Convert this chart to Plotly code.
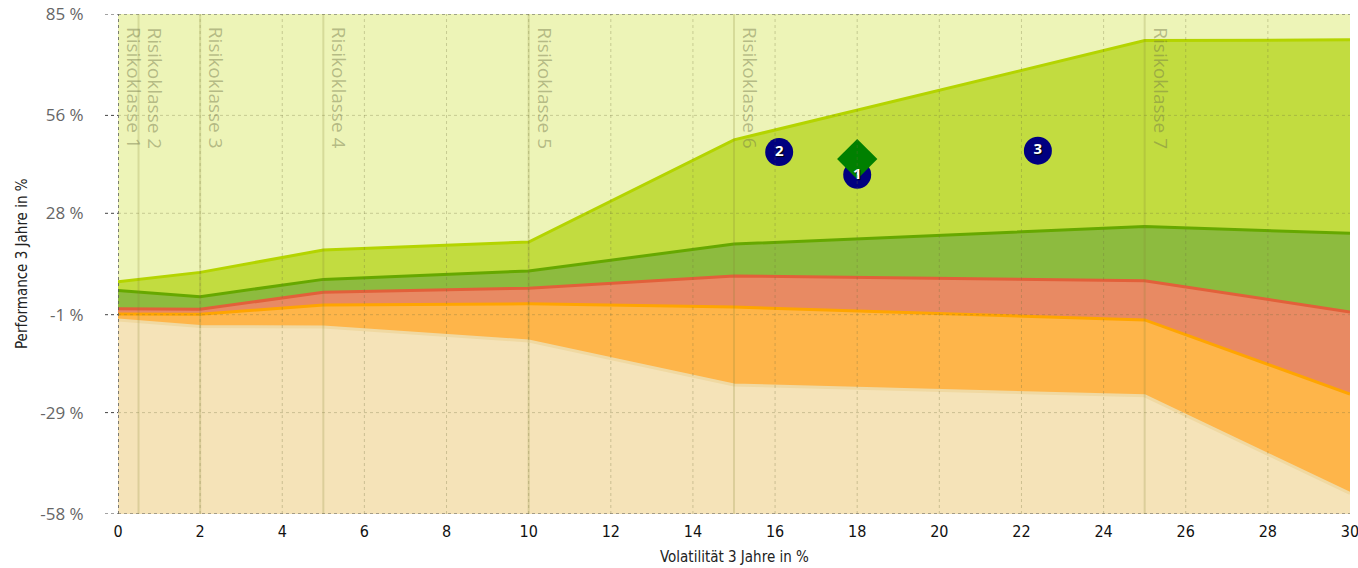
import plotly.graph_objects as go

# ---- data ----
x_pts = [0, 2, 5, 10, 15, 25, 30]
line1 = [8.4, 11.1, 17.5, 19.8, 49.0, 77.4, 77.6]      # top (yellow-green)
line2 = [5.9, 4.15, 9.1, 11.5, 19.2, 24.2, 22.3]        # dark green
line3 = [0.7, 0.55, 5.4, 6.6, 10.1, 8.7, -0.2]          # red
line4 = [-0.8, -0.9, 1.8, 2.1, 1.2, -2.5, -23.7]        # orange
line5 = [-2.5, -4.4, -4.5, -8.5, -21.1, -24.2, -52.1]   # beige

y_min, y_max = -58, 85
y_ticks = [-58, -29, -1, 28, 56, 85]
y_ticktext = [f"{v} %" for v in y_ticks]
x_ticks = list(range(0, 31, 2))

risk_x = [0, 0.5, 2, 5, 10, 15, 25]
risk_labels = [f"Risikoklasse {i}" for i in range(1, 8)]

fund_x = [18, 16.1, 22.4]
fund_y = [39.0, 45.5, 45.9]
fund_labels = ["1", "2", "3"]
bench_x = [18]
bench_y = [43.5]

x_title = "Volatilität 3 Jahre in %"
y_title = "Performance 3 Jahre in %"

# ---- styling ----
W, H = 1358, 568
ML, MR, MT, MB = 118, 8, 14, 54
PW, PH = W - ML - MR, H - MT - MB

COND = "DejaVu Sans Condensed, Liberation Sans Narrow, Open Sans"

bg_top = "#edf4b7"
band_fill = ["#f5e3b8", "#feb54a", "#e88a63", "#8dbb3f", "#c2dc40"]
band_line = ["#f0d9a2", "#ffa500", "#e2603a", "#66a800", "#b4d400"]
bounds = [line5, line4, line3, line2, line1]

fig = go.Figure()
fig.add_trace(go.Scatter(x=x_pts, y=[y_min] * len(x_pts), mode="lines",
                         line=dict(width=0), hoverinfo="skip", showlegend=False))
for yv, fc, lc in zip(bounds, band_fill, band_line):
    fig.add_trace(go.Scatter(x=x_pts, y=yv, mode="lines", fill="tonexty",
                             fillcolor=fc, line=dict(color=lc, width=3),
                             hoverinfo="skip", showlegend=False))

shapes = []
grid_col = "rgba(110,110,60,0.3)"
for xv in x_ticks[1:-1]:
    shapes.append(dict(type="line", xref="x", yref="paper", x0=xv, x1=xv, y0=0, y1=1,
                       line=dict(color=grid_col, width=1, dash="dot"), layer="above"))
for yv in y_ticks[1:-1]:
    shapes.append(dict(type="line", xref="paper", yref="y", x0=0, x1=1, y0=yv, y1=yv,
                       line=dict(color=grid_col, width=1, dash="dot"), layer="above"))
for yv in [y_min, y_max]:
    shapes.append(dict(type="line", xref="paper", yref="y", x0=0, x1=1, y0=yv, y1=yv,
                       line=dict(color="#555", width=1, dash="dot"), layer="above"))
# y tick marks (dotted, left of axis)
for yv in y_ticks:
    shapes.append(dict(type="line", xref="paper", yref="y", x0=-13 / PW, x1=0, y0=yv, y1=yv,
                       line=dict(color="#444", width=1, dash="dot"), layer="above"))
shapes.append(dict(type="line", xref="x", yref="paper", x0=0, x1=0, y0=0, y1=1,
                   line=dict(color="#555", width=1.5, dash="dot"), layer="above"))
for xv in risk_x[1:]:
    shapes.append(dict(type="line", xref="x", yref="paper", x0=xv, x1=xv, y0=0, y1=1,
                       line=dict(color="rgba(130,130,50,0.22)", width=2), layer="above"))

annotations = []
for xv, lab in zip(risk_x, risk_labels):
    annotations.append(dict(x=xv, y=y_max, xref="x", yref="y", text=lab, textangle=90,
                            showarrow=False, xanchor="left", yanchor="top",
                            xshift=1, yshift=-11,
                            font=dict(family="Open Sans", size=19,
                                      color="rgba(110,115,70,0.45)")))
annotations.append(dict(x=0.5, y=-43 / PH, xref="paper", yref="paper",
                        text=x_title, showarrow=False, xanchor="center", yanchor="middle",
                        font=dict(family=COND, size=15, color="#222")))
annotations.append(dict(x=-(ML - 22) / PW, y=0.5, xref="paper", yref="paper",
                        text=y_title, textangle=-90, showarrow=False,
                        xanchor="center", yanchor="middle",
                        font=dict(family=COND, size=15, color="#222")))

fig.add_trace(go.Scatter(x=fund_x, y=fund_y, mode="markers",
                         marker=dict(symbol="circle", size=28, color="#000080"),
                         hoverinfo="skip", showlegend=False))
fig.add_trace(go.Scatter(x=bench_x, y=bench_y, mode="markers",
                         marker=dict(symbol="diamond", size=31, color="#008000"),
                         hoverinfo="skip", showlegend=False))
fig.add_trace(go.Scatter(x=fund_x, y=fund_y, mode="text", text=fund_labels,
                         textfont=dict(family="Open Sans", size=15, color="white",
                                       weight="bold", shadow="1px 1px 1px #000"),
                         hoverinfo="skip", showlegend=False))

fig.update_layout(
    width=W, height=H,
    margin=dict(l=ML, r=MR, t=MT, b=MB, autoexpand=False),
    paper_bgcolor="white", plot_bgcolor=bg_top,
    shapes=shapes, annotations=annotations,
    showlegend=False,
    xaxis=dict(range=[0, 30], tickvals=x_ticks, showgrid=False, zeroline=False,
               showline=False, ticks="outside", ticklen=3, tickcolor="rgba(0,0,0,0)",
               automargin=False, ticklabeloverflow="allow",
               tickfont=dict(family=COND, size=16, color="#111")),
    yaxis=dict(range=[y_min, y_max], tickvals=y_ticks, ticktext=y_ticktext,
               showgrid=False, zeroline=False, showline=False,
               ticks="outside", ticklen=30, tickcolor="rgba(0,0,0,0)", tickwidth=1,
               automargin=False,
               tickfont=dict(family="Open Sans", size=17, color="#666")),
)

fig.write_html("out.html", config={"displayModeBar": False},
               post_script="document.body.style.margin='0';document.body.style.overflow='hidden';")
